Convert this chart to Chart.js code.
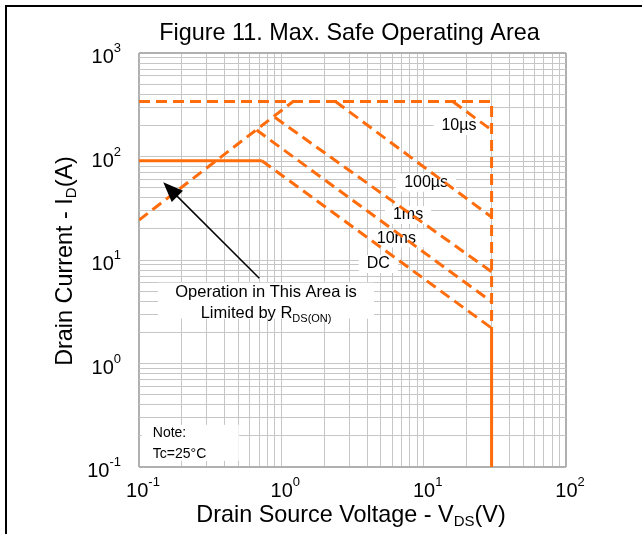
<!DOCTYPE html>
<html>
<head>
<meta charset="utf-8">
<script src="https://cdn.jsdelivr.net/npm/chart.js@4.4.0/dist/chart.umd.min.js"></script>
<style>
html,body{margin:0;padding:0;background:#fff;}
canvas{display:block;}
</style>
</head>
<body>
<canvas id="myChart" width="642" height="534"></canvas>
<script>
// SOA boundary (V, A)
var limitX=[0.1,30,30];      var limitY=[340,340,2.2];
var us10X=[16,30];           var us10Y=[340,180];
var us100X=[2.4,30];         var us100Y=[340,26];
var ms1X=[0.9,30];           var ms1Y=[239,7.7];
var ms10X=[0.67,30];         var ms10Y=[180,3.95];
var dcFlatX=[0.1,0.73];      var dcFlatY=[91,91];
var dcSlopeX=[0.73,30];      var dcSlopeY=[91,2.2];
var dcVertX=[30,30];         var dcVertY=[2.2,0.1];
var rdsX=[0.1,1.21];         var rdsY=[24.3,340];

var curveNames=['10µs','100µs','1ms','10ms','DC'];
var curveLabelX=[17.7,10.4,7.77,6.43,4.8];
var curveLabelY=[197,55.8,27.2,16.2,9.15];

var xTickExps=[-1,0,1,2];
var yTickExps=[-1,0,1,2,3];

var orange='#ff6c0c';
var font='"Liberation Sans", Arial, sans-serif';

function line(xs,ys,dashed){
    return {
        data: xs.map(function(x,i){return {x:x,y:ys[i]};}),
        showLine:true, borderColor:orange, borderWidth:3,
        borderDash: dashed?[11,6]:[], pointRadius:0, tension:0, fill:false
    };
}

function logTicks(exps){
    var t=[];
    for(var i=0;i<exps.length-1;i++){
        for(var m=1;m<10;m++){
            t.push({value:Number((m*Math.pow(10,exps[i])).toPrecision(6))});
        }
    }
    t.push({value:Math.pow(10,exps[exps.length-1])});
    return t;
}

function gridColor(c){
    return (c.index===0||c.index===c.scale.ticks.length-1)?'#b0b0b0':'#c6c6c6';
}
function gridWidth(c){
    return (c.index===0||c.index===c.scale.ticks.length-1)?2:1;
}

function textSub(ctx,parts,x,y,align){
    // parts: [text,size,dy]
    var w=0;
    parts.forEach(function(p){ctx.font=p[1]+'px '+font; w+=ctx.measureText(p[0]).width;});
    var sx = align==='center'? x-w/2 : (align==='right'? x-w : x);
    parts.forEach(function(p){
        ctx.font=p[1]+'px '+font;
        ctx.fillText(p[0],sx,y+p[2]);
        sx+=ctx.measureText(p[0]).width;
    });
}

var annot={
    id:'annot',
    beforeDatasetsDraw:function(chart){
        var ctx=chart.ctx, xs=chart.scales.x, ys=chart.scales.y;
        ctx.save();
        ctx.textBaseline='middle';
        // curve labels
        ctx.font='16px '+font;
        for(var i=0;i<curveNames.length;i++){
            var px=xs.getPixelForValue(curveLabelX[i]), py=ys.getPixelForValue(curveLabelY[i]);
            var w=ctx.measureText(curveNames[i]).width;
            ctx.fillStyle='#fff';
            ctx.fillRect(px-w/2-8,py-9,w+16,18);
            ctx.fillStyle='#000';
            ctx.textAlign='center';
            ctx.fillText(curveNames[i],px,py);
        }
        // R_DS(on) note
        var ox=xs.getPixelForValue(0.781), oy=ys.getPixelForValue(4.83);
        ctx.fillStyle='#fff';
        ctx.fillRect(ox-108,oy-10,216,36);
        ctx.fillStyle='#000';
        ctx.textAlign='center';
        ctx.font='16.5px '+font;
        ctx.fillText('Operation in This Area is',ox,oy);
        ctx.textAlign='left';
        ctx.textBaseline='alphabetic';
        textSub(ctx,[['Limited by R',16.5,0],['DS(ON)',11,4]],ox,oy+25,'center');
        // Tc note
        var nx=xs.getPixelForValue(0.125), ny=ys.getPixelForValue(0.214);
        ctx.fillStyle='#fff';
        ctx.fillRect(nx-11,ny-8,97,36);
        ctx.fillStyle='#000';
        ctx.textBaseline='middle';
        ctx.font='14px '+font;
        ctx.fillText('Note:',nx,ny);
        ctx.fillText('Tc=25°C',nx,ny+21);
        ctx.restore();
    },
    afterDatasetsDraw:function(chart){
        var ctx=chart.ctx, xs=chart.scales.x, ys=chart.scales.y;
        var tx=xs.getPixelForValue(0.148), ty=ys.getPixelForValue(56.3);
        var fx=xs.getPixelForValue(0.70), fy=ys.getPixelForValue(6.65);
        var a=Math.atan2(ty-fy,tx-fx);
        ctx.save();
        ctx.strokeStyle='#000'; ctx.fillStyle='#000'; ctx.lineWidth=1.5;
        ctx.beginPath();
        ctx.moveTo(fx,fy);
        ctx.lineTo(tx-16*Math.cos(a),ty-16*Math.sin(a));
        ctx.stroke();
        ctx.beginPath();
        ctx.moveTo(tx,ty);
        ctx.lineTo(tx-20*Math.cos(a)+8*Math.sin(a),ty-20*Math.sin(a)-8*Math.cos(a));
        ctx.lineTo(tx-20*Math.cos(a)-8*Math.sin(a),ty-20*Math.sin(a)+8*Math.cos(a));
        ctx.closePath();
        ctx.fill();
        ctx.restore();
    },
    afterDraw:function(chart){
        var ctx=chart.ctx, xs=chart.scales.x, ys=chart.scales.y, area=chart.chartArea;
        ctx.save();
        // frame
        ctx.fillStyle='#000';
        ctx.fillRect(5,5,637,2);
        ctx.fillRect(5,5,2,529);
        ctx.textBaseline='alphabetic';
        ctx.textAlign='left';
        // title
        textSub(ctx,[['Figure 11. Max. Safe Operating Area',23.4,0]],349.5,39.5,'center');
        // tick labels
        xTickExps.forEach(function(e){
            textSub(ctx,[['10',20,0],[String(e),13,-11]],xs.getPixelForValue(Math.pow(10,e))+4,area.bottom+30,'center');
        });
        yTickExps.forEach(function(e){
            textSub(ctx,[['10',20,0],[String(e),13,-11]],121,ys.getPixelForValue(Math.pow(10,e))+10,'right');
        });
        // axis titles
        textSub(ctx,[['Drain Source Voltage - V',23.4,0],['DS',15,4],['(V)',23.4,0]],351,521.5,'center');
        ctx.translate(71.5,261);
        ctx.rotate(-Math.PI/2);
        textSub(ctx,[['Drain Current - I',23.4,0],['D',15,4],['(A)',23.4,0]],0,0,'center');
        ctx.restore();
    }
};

const ctx=document.getElementById('myChart').getContext('2d');
const myChart=new Chart(ctx,{
    type:'scatter',
    data:{
        datasets:[
            line(rdsX,rdsY,true),
            line(limitX,limitY,true),
            line(us10X,us10Y,true),
            line(us100X,us100Y,true),
            line(ms1X,ms1Y,true),
            line(ms10X,ms10Y,true),
            line(dcSlopeX,dcSlopeY,true),
            line(dcFlatX,dcFlatY,false),
            line(dcVertX,dcVertY,false)
        ]
    },
    options:{
        responsive:false,
        animation:false,
        layout:{padding:{left:139,top:53,right:76,bottom:67}},
        plugins:{legend:{display:false},tooltip:{enabled:false},title:{display:false}},
        scales:{
            x:{
                type:'logarithmic', min:0.1, max:100,
                afterBuildTicks:function(s){s.ticks=logTicks(xTickExps);},
                afterFit:function(s){s.height=0;},
                ticks:{display:false,autoSkip:false},
                grid:{color:gridColor,lineWidth:gridWidth,drawTicks:false},
                border:{display:false}
            },
            y:{
                type:'logarithmic', min:0.1, max:1000,
                afterBuildTicks:function(s){s.ticks=logTicks(yTickExps);},
                afterFit:function(s){s.width=0;},
                ticks:{display:false,autoSkip:false},
                grid:{color:gridColor,lineWidth:gridWidth,drawTicks:false},
                border:{display:false}
            }
        }
    },
    plugins:[annot]
});
</script>
</body>
</html>
